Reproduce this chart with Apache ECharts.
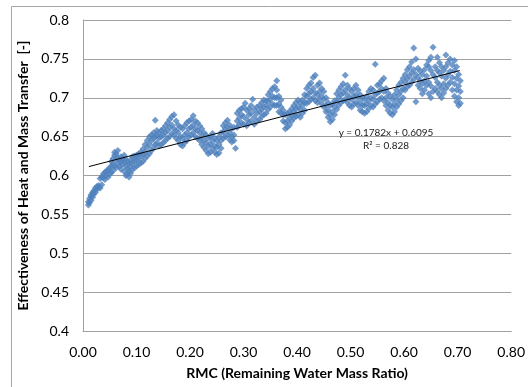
<!DOCTYPE html>
<html>
<head>
<meta charset="utf-8">
<script src="https://cdn.jsdelivr.net/npm/echarts@6/dist/echarts.min.js"></script>
<style>html,body{margin:0;padding:0;background:#fff}#c{width:528px;height:387px}</style>
</head>
<body>
<div id="c"></div>
<script>
// Each row: [RMC, effectiveness values observed at that RMC ...]
const samples = [
[0.010,0.562,0.566],[0.012,0.565,0.570],[0.015,0.568,0.573,0.575],[0.018,0.572,0.578],
[0.020,0.576,0.580],[0.023,0.578,0.584],[0.026,0.582,0.586],[0.029,0.585,0.587],
[0.032,0.584,0.596],[0.035,0.588,0.598],[0.038,0.597,0.602],[0.041,0.595,0.604],
[0.044,0.600,0.606],[0.047,0.598,0.607],[0.050,0.602,0.610],[0.053,0.604,0.612,0.618],
[0.056,0.606,0.615,0.622],[0.059,0.612,0.626,0.630],[0.062,0.610,0.620,0.628],[0.065,0.615,0.623,0.632],
[0.068,0.612,0.620],[0.071,0.608,0.618,0.624],[0.074,0.614,0.622],[0.077,0.605,0.617,0.626],
[0.080,0.600,0.612,0.621],[0.083,0.602,0.609,0.618],[0.086,0.598,0.606,0.615],[0.089,0.603,0.612,0.620],
[0.092,0.607,0.616,0.624],[0.096,0.610,0.618,0.625],
[0.100,0.612,0.620,0.626],[0.104,0.614,0.622,0.628],[0.108,0.616,0.625,0.630],[0.112,0.618,0.627,0.634],
[0.116,0.622,0.630,0.640],[0.120,0.625,0.636,0.645],[0.124,0.628,0.640,0.650],[0.128,0.632,0.645,0.652],
[0.132,0.636,0.648,0.655],[0.135,0.640,0.650,0.671],[0.138,0.642,0.652,0.658],[0.142,0.638,0.648,0.655],
[0.146,0.640,0.650,0.658],[0.150,0.642,0.652,0.660],[0.154,0.645,0.655,0.664],[0.158,0.648,0.658,0.668],
[0.162,0.650,0.662,0.672],[0.166,0.654,0.665,0.676],[0.170,0.652,0.660,0.678],[0.174,0.648,0.658,0.670],
[0.178,0.645,0.655,0.665],[0.182,0.640,0.650,0.662],[0.186,0.638,0.648,0.660],[0.190,0.642,0.652,0.664],
[0.194,0.645,0.655,0.668],[0.198,0.650,0.660,0.670],[0.202,0.652,0.662,0.672],[0.206,0.655,0.665,0.677],
[0.210,0.650,0.660,0.670],[0.214,0.648,0.658,0.668],[0.218,0.645,0.655,0.664],[0.222,0.640,0.650,0.660],
[0.226,0.636,0.645,0.655],[0.230,0.632,0.642,0.652],[0.234,0.628,0.638,0.648],[0.238,0.630,0.640,0.650],
[0.242,0.634,0.644,0.654],[0.246,0.630,0.638,0.648],[0.250,0.627,0.636,0.645],[0.254,0.629,0.640,0.650],
[0.258,0.635,0.645,0.655],[0.262,0.648,0.656,0.664],[0.266,0.650,0.660,0.668],[0.270,0.652,0.662,0.671],
[0.274,0.646,0.655,0.665],[0.278,0.643,0.650,0.660],[0.282,0.645,0.652,0.662],[0.285,0.635],
[0.288,0.662,0.670,0.680],[0.292,0.665,0.674,0.684],[0.296,0.668,0.678,0.686],[0.300,0.666,0.676,0.688],
[0.303,0.693],[0.306,0.664,0.672,0.684],[0.310,0.668,0.678,0.686],[0.314,0.670,0.680,0.690],
[0.317,0.698],[0.320,0.666,0.675,0.685],[0.325,0.670,0.680,0.688],[0.330,0.672,0.682,0.690],
[0.334,0.676,0.685,0.694],[0.338,0.678,0.688,0.697],[0.342,0.680,0.690,0.696],[0.346,0.685,0.695,0.704],
[0.350,0.688,0.698,0.708],[0.354,0.692,0.702,0.712],[0.358,0.690,0.700,0.714],[0.362,0.690,0.700,0.710,0.722],
[0.366,0.682,0.692,0.702],[0.370,0.680,0.688,0.697],[0.374,0.670,0.678,0.684],[0.378,0.660,0.668,0.678],
[0.382,0.662,0.670,0.680],[0.386,0.665,0.674,0.682],[0.390,0.670,0.678,0.686],[0.394,0.674,0.682,0.690],
[0.398,0.676,0.686,0.694],[0.402,0.678,0.688,0.697],[0.406,0.675,0.685,0.694],[0.410,0.680,0.690,0.697],
[0.414,0.684,0.694,0.704],[0.418,0.693,0.702,0.712],[0.422,0.695,0.705,0.716],[0.426,0.698,0.708,0.719],
[0.430,0.700,0.712,0.726],[0.434,0.696,0.706,0.729],[0.438,0.694,0.704,0.716],[0.442,0.698,0.708,0.719],
[0.446,0.692,0.702,0.712],[0.450,0.688,0.698,0.708],[0.454,0.682,0.690,0.700],[0.458,0.675,0.684,0.694],
[0.462,0.669,0.678,0.690],[0.466,0.672,0.682,0.692],[0.470,0.678,0.688,0.696],[0.474,0.685,0.695,0.705],
[0.478,0.690,0.700,0.710],[0.482,0.694,0.704,0.714],[0.486,0.696,0.706,0.718],[0.490,0.698,0.710,0.729],
[0.494,0.694,0.704,0.716],[0.498,0.690,0.700,0.712],[0.502,0.688,0.698,0.708],[0.506,0.692,0.702,0.712],
[0.510,0.694,0.704,0.716],[0.514,0.690,0.700,0.710],[0.518,0.684,0.694,0.704],[0.522,0.682,0.690,0.700],
[0.526,0.680,0.690,0.698],[0.530,0.682,0.692,0.702],[0.534,0.686,0.696,0.708],[0.538,0.690,0.700,0.712],
[0.542,0.688,0.698,0.710],[0.546,0.692,0.704,0.743],[0.550,0.695,0.706,0.716],[0.554,0.698,0.708,0.718],
[0.558,0.700,0.712,0.722],[0.562,0.696,0.708,0.725],[0.566,0.690,0.700,0.712],[0.570,0.684,0.694,0.706],
[0.574,0.680,0.690,0.702],[0.578,0.678,0.688,0.698],[0.582,0.682,0.692,0.704],[0.586,0.688,0.698,0.710],
[0.590,0.692,0.704,0.716],[0.594,0.696,0.708,0.720],[0.598,0.700,0.712,0.725],[0.602,0.710,0.720,0.730],
[0.606,0.714,0.724,0.736],[0.610,0.716,0.728,0.740],[0.614,0.720,0.732,0.746],[0.618,0.724,0.736,0.764],
[0.622,0.695,0.730,0.750],[0.626,0.716,0.726,0.738],[0.630,0.712,0.722,0.734],[0.634,0.705,0.718,0.730],
[0.638,0.710,0.722,0.736],[0.642,0.716,0.728,0.742],[0.646,0.705,0.720,0.740,0.748],[0.650,0.700,0.715,0.735,0.752],
[0.654,0.708,0.730,0.765],[0.658,0.712,0.726,0.740],[0.662,0.708,0.720,0.735,0.752],[0.666,0.704,0.716,0.732,0.745],
[0.670,0.700,0.712,0.728,0.740],[0.674,0.706,0.718,0.735],[0.678,0.712,0.725,0.740,0.755],[0.682,0.716,0.730,0.745],
[0.686,0.720,0.734,0.750],[0.690,0.710,0.726,0.742],[0.694,0.702,0.718,0.735,0.748],[0.698,0.695,0.710,0.725,0.740],
[0.702,0.690,0.700,0.715,0.730],[0.705,0.693,0.708,0.722]
];
const trendSlope = 0.1782;
const trendIntercept = 0.6095;
const trendRange = [0.011, 0.704];
const trendLabel = ['y = 0.1782x + 0.6095', 'R\u00B2 = 0.828'];
const xTitle = 'RMC (Remaining Water Mass Ratio)';
const yTitle = 'Effectiveness of Heat and Mass Transfer  [-]';

const points = [];
samples.forEach(r => { for (let i = 1; i < r.length; i++) points.push([r[0], r[i]]); });
const trend = trendRange.map(x => [x, trendSlope * x + trendIntercept]);

const chart = echarts.init(document.getElementById('c'), null, {renderer: 'canvas'});
const font = 'Lato, "Open Sans", sans-serif';
chart.setOption({
  animation: false,
  backgroundColor: '#fff',
  grid: {left: 83, top: 20, right: 11, bottom: 56, containLabel: false},
  xAxis: {
    type: 'value', min: 0, max: 0.8, interval: 0.1,
    axisLine: {show: true, lineStyle: {color: '#a0a0a0', width: 1}},
    axisTick: {show: false},
    splitLine: {show: false},
    axisLabel: {color: '#000', fontFamily: font, fontSize: 14, margin: 14, formatter: v => v.toFixed(2)},
    name: xTitle, nameLocation: 'middle', nameGap: 35,
    nameTextStyle: {color: '#000', fontFamily: font, fontSize: 14, fontWeight: 'bold'}
  },
  yAxis: {
    type: 'value', min: 0.4, max: 0.8, interval: 0.05,
    axisLine: {show: true, lineStyle: {color: '#a0a0a0', width: 1}},
    axisTick: {show: false},
    splitLine: {show: true, lineStyle: {color: '#a0a0a0', width: 1}},
    axisLabel: {color: '#000', fontFamily: font, fontSize: 14, margin: 14, formatter: v => String(parseFloat(v.toFixed(2)))},
    name: yTitle, nameLocation: 'middle', nameGap: 50,
    nameTextStyle: {color: '#000', fontFamily: font, fontSize: 14, fontWeight: 'bold'}
  },
  series: [
    {type: 'scatter', data: points, symbol: 'diamond', symbolSize: 7,
     itemStyle: {color: '#4F81BD'}, z: 2},
    {type: 'line', data: trend, showSymbol: false, symbol: 'none',
     lineStyle: {color: '#000', width: 1}, z: 3}
  ],
  graphic: [
    {type: 'rect', shape: {x: 11.5, y: 6.5, width: 600, height: 600}, style: {fill: 'none', stroke: '#a6a6a6', lineWidth: 1}, z: -1, silent: true},
    {type: 'text', x: 386, y: 133, style: {text: trendLabel[0], fill: '#222', font: '10px ' + font, align: 'center', verticalAlign: 'middle'}, z: 10},
    {type: 'text', x: 386, y: 146, style: {text: trendLabel[1], fill: '#222', font: '10px ' + font, align: 'center', verticalAlign: 'middle'}, z: 10}
  ]
});
</script>
</body>
</html>
